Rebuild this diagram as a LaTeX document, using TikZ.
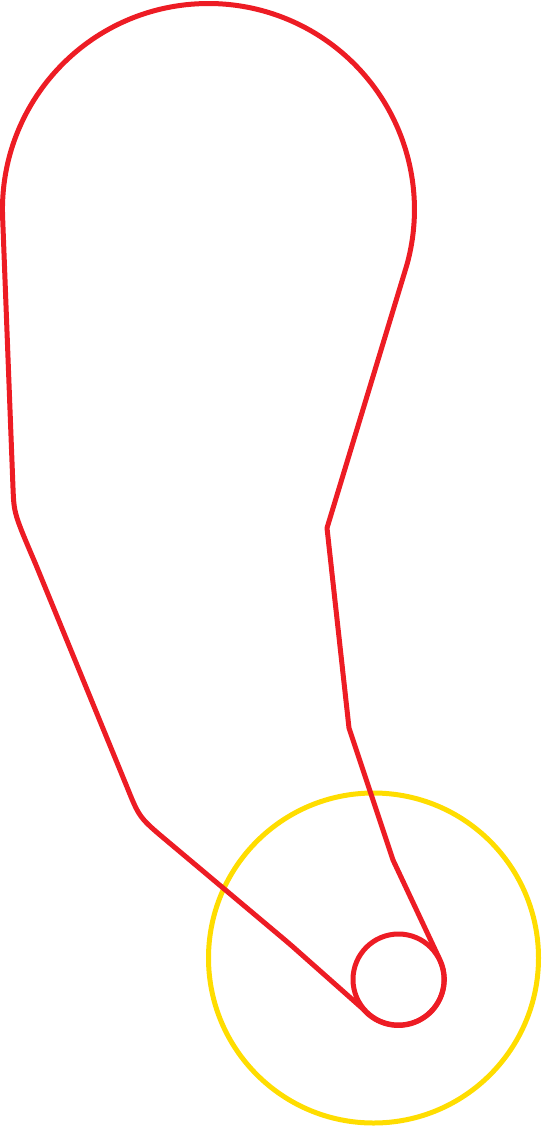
\documentclass[tikz,border=0pt]{standalone}
\definecolor{outred}{RGB}{237,28,36}
\definecolor{ringyellow}{RGB}{255,221,0}
\begin{document}
\begin{tikzpicture}[x=1pt,y=1pt,
  redline/.style={draw=outred,line width=5pt,line join=round},
  yellowline/.style={draw=ringyellow,line width=5pt}]
\useasboundingbox (0,0) rectangle (541,-1126);
% yellow ring
\node[yellowline,circle,minimum size=330pt,inner sep=0pt] (ring) at (373.5,-958) {};
% small red circle
\node[redline,circle,minimum size=91pt,inner sep=0pt] (hub) at (398.5,-979.5) {};
% outline
\coordinate (bigc) at (208.5,-209.5);
\draw[redline] (2.6,-216.7) arc[start angle=182,end angle=-15.6,radius=206]
  -- (327,-528) -- (349,-728) -- (393,-860) -- (440,-960)
  arc[start angle=25,end angle=-140,radius=46]
  -- (292,-946) -- (285,-940) -- (168,-841.7)
  .. controls (139.4,-817.7) .. (127,-787)
  -- (36,-565)
  .. controls (14,-513.5) .. (13,-488)
  -- cycle;
\end{tikzpicture}
\end{document}
